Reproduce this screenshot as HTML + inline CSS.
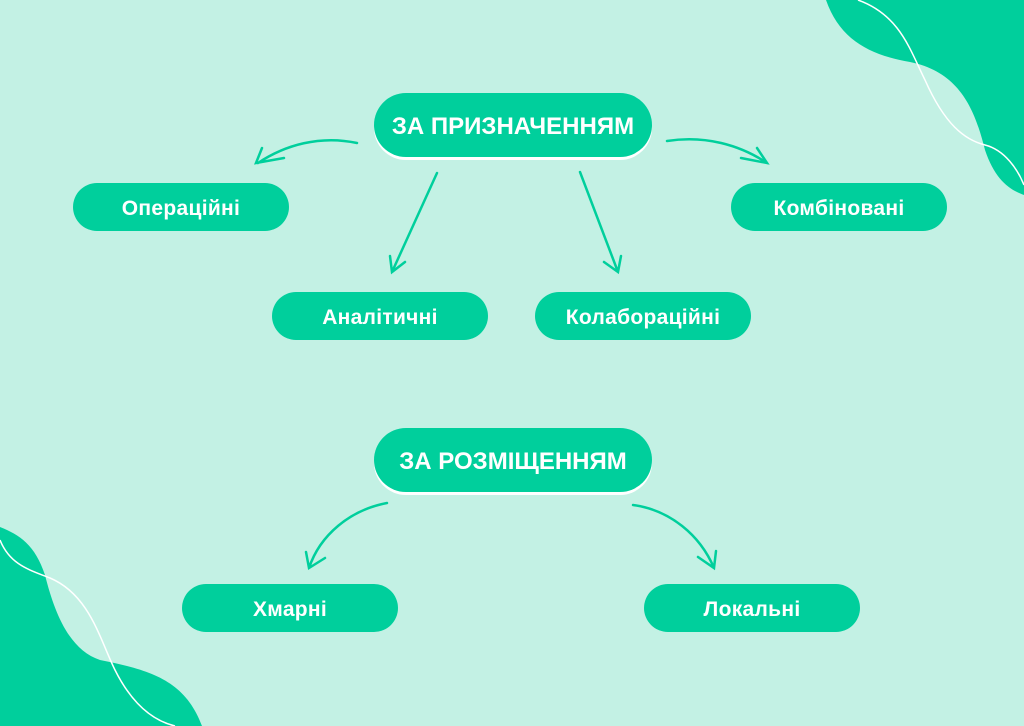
<!DOCTYPE html><html><head><meta charset="utf-8"><style>
body{margin:0;width:1024px;height:726px;background:#c3f1e4;position:relative;overflow:hidden;font-family:"Liberation Sans","DejaVu Sans",sans-serif}
.n{position:absolute;background:#00cf9c;color:#fff;font-weight:bold;display:flex;align-items:center;justify-content:center;border-radius:25px;font-size:21px;width:216px;height:48px;padding-top:4px;box-sizing:border-box;letter-spacing:0.3px}
.m{width:278px;height:64px;border-radius:33px;font-size:24px;box-shadow:0 3px 0 #fff;letter-spacing:0}
svg{position:absolute;left:0;top:0}
</style></head><body>
<svg width="1024" height="726">
<path d="M826 0 C840 40 870 55 910 62 C960 72 975 110 985 150 C995 180 1010 190 1024 195 L1024 0Z" fill="#00cf9c"/>
<path d="M858 0 C900 15 910 50 925 80 C945 125 965 140 985 145 C1005 150 1018 170 1024 185" fill="none" stroke="#fff" stroke-width="1.5"/>
<path d="M0 527 C20 535 35 545 45 575 C55 615 70 650 100 660 C150 670 185 680 202 726 L0 726Z" fill="#00cf9c"/>
<path d="M0 540 C10 565 30 570 50 578 C90 595 100 640 115 670 C130 700 150 720 175 726" fill="none" stroke="#fff" stroke-width="1.5"/>
<g fill="none" stroke="#00cf9c" stroke-width="2.5" stroke-linecap="round">
<path d="M357 143 C320 135 285 145 258 163 M262 148 L256 163 L284 158"/>
<path d="M437 173 L392 272 M390 256 L392 272 L405 262"/>
<path d="M580 172 L618 272 M604 262 L618 272 L621 256"/>
<path d="M667 141 C705 135 740 145 767 163 M741 158 L767 163 L757 148"/>
<path d="M387 503 C350 510 320 535 309 568 M306 552 L309 568 L325 558"/>
<path d="M633 505 C670 510 700 535 714 568 M698 557 L714 568 L716 551"/>
</g></svg>
<div class="n m" style="left:374px;top:93px">ЗА ПРИЗНАЧЕННЯМ</div>
<div class="n" style="left:73px;top:183px">Операційні</div>
<div class="n" style="left:731px;top:183px">Комбіновані</div>
<div class="n" style="left:272px;top:292px">Аналітичні</div>
<div class="n" style="left:535px;top:292px">Колабораційні</div>
<div class="n m" style="left:374px;top:428px">ЗА РОЗМІЩЕННЯМ</div>
<div class="n" style="left:182px;top:584px">Хмарні</div>
<div class="n" style="left:644px;top:584px">Локальні</div>
</body></html>
